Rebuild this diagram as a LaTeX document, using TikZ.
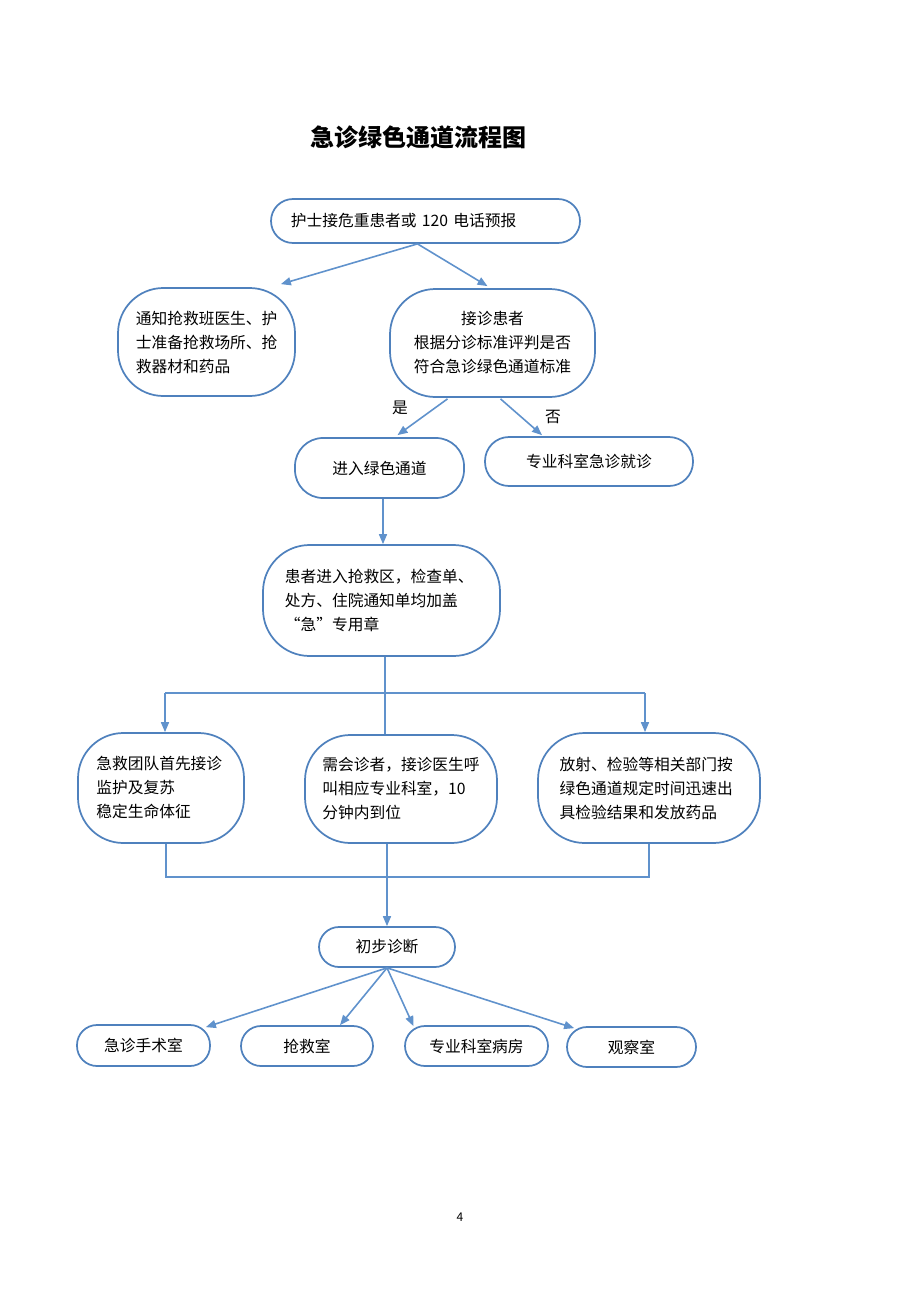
\documentclass[tikz,border=0pt]{standalone}
\usepackage{fontspec}
\setmainfont{Noto Sans CJK SC}
\newfontfamily\cjktitle{Noto Sans CJK SC}
\usepackage{tikz}
\usetikzlibrary{arrows.meta,calc}
\usepackage{xcolor}
\definecolor{boxblue}{RGB}{79,129,189}
\definecolor{linkblue}{RGB}{96,146,204}

\begin{document}
\begin{tikzpicture}[x=0.75pt,y=0.75pt,yscale=-1,xscale=1,
  box/.style={draw=boxblue,line width=1.3pt,fill=white,inner sep=0pt,font=\fontsize{11.8pt}{18pt}\selectfont},
  link/.style={draw=linkblue,line width=1.2pt},
  arrow/.style={link,-{Triangle[length=7.5pt,width=6pt]}}]
%set diagram to the page size
\useasboundingbox (0,0) rectangle (920,1302);

% Title
\node (title) at (418,137) {\cjktitle\fontsize{18pt}{22pt}\selectfont\bfseries 急诊绿色通道流程图};

%Shape: top call
\node[box,minimum width=231.75pt,minimum height=33pt,rounded corners=16.5pt,text width=202pt,align=left] (call) at (425.5,221) {护士接危重患者或 120 电话预报};
%Shape: notify staff
\node[box,minimum width=132.75pt,minimum height=81pt,rounded corners=34pt,text width=106pt,align=left] (notify) at (206.5,342) {通知抢救班医生、护\\士准备抢救场所、抢\\救器材和药品};
%Shape: triage
\node[box,minimum width=153.75pt,minimum height=81pt,rounded corners=34pt,align=center] (triage) at (492.5,343) {接诊患者\\根据分诊标准评判是否\\符合急诊绿色通道标准};
%Shape: green channel
\node[box,minimum width=126.75pt,minimum height=45pt,rounded corners=21pt] (green) at (379.5,468) {进入绿色通道};
%Shape: specialist
\node[box,minimum width=156pt,minimum height=36.75pt,rounded corners=18pt] (special) at (589,461.5) {专业科室急诊就诊};
%Shape: rescue zone
\node[box,minimum width=177.75pt,minimum height=83.25pt,rounded corners=35pt,text width=145pt,align=left] (zone) at (381.5,600.5) {患者进入抢救区，检查单、\\处方、住院通知单均加盖\\“急”专用章};
%Shape: three parallel steps
\node[box,minimum width=124.5pt,minimum height=82.5pt,rounded corners=34pt,text width=97pt,align=left] (team1) at (161,788) {急救团队首先接诊\\监护及复苏\\稳定生命体征};
\node[box,minimum width=144pt,minimum height=81pt,rounded corners=34pt,text width=118pt,align=left] (team2) at (401,789) {需会诊者，接诊医生呼\\叫相应专业科室，10\\分钟内到位};
\node[box,minimum width=166.5pt,minimum height=82.5pt,rounded corners=35pt,text width=134pt,align=left] (team3) at (649,788) {放射、检验等相关部门按\\绿色通道规定时间迅速出\\具检验结果和发放药品};
%Shape: diagnosis
\node[box,minimum width=102pt,minimum height=30pt,rounded corners=15pt] (diag) at (387,947) {初步诊断};
%Shape: destinations
\node[box,minimum width=99.75pt,minimum height=30.75pt,rounded corners=15pt] (op) at (143.5,1045.5) {急诊手术室};
\node[box,minimum width=99pt,minimum height=30pt,rounded corners=15pt] (resc) at (307,1046) {抢救室};
\node[box,minimum width=107.25pt,minimum height=30pt,rounded corners=15pt] (ward) at (476.5,1046) {专业科室病房};
\node[box,minimum width=96.75pt,minimum height=30pt,rounded corners=15pt] (obs) at (631.5,1047) {观察室};

%Straight Lines: from call
\draw[arrow] ([xshift=-6pt]call.south) -- ($(notify.north east)+(-15,-3)$);
\draw[arrow] ([xshift=-6pt]call.south) -- ($(triage.north)+(-5,-2)$);
%Straight Lines: yes / no
\draw[arrow] ($(triage.south)+(-45,1)$) -- ($(green.north)+(18,-2)$);
\draw[arrow] ($(triage.south)+(8,1)$) -- ($(special.north)+(-47,-1)$);
% Text Node
\node[font=\fontsize{11.8pt}{14pt}\selectfont] (yes) at (400,408) {是};
\node[font=\fontsize{11.8pt}{14pt}\selectfont] (no) at (553,417) {否};
%Straight Lines: into rescue zone
\draw[arrow] ($(zone.north |- green.south)+(1.5,0)$) -- ($(zone.north)+(1.5,0)$);
%Straight Lines: split
\coordinate (top) at ($(zone.south)+(3.5,0)$);
\coordinate (split) at ($(top)+(0,36)$);
\draw[link] (top) -- (top |- team2.north);
\draw[link] ($(team1.north |- split)+(4,0)$) -- ($(team3.north |- split)+(-4,0)$);
\draw[arrow] ($(team1.north |- split)+(4,0)$) -- ($(team1.north)+(4,0)$);
\draw[arrow] ($(team3.north |- split)+(-4,0)$) -- ($(team3.north)+(-4,0)$);
%Straight Lines: merge
\coordinate (merge) at ($(diag.north)+(0,-49)$);
\draw[link] ($(team1.south)+(5,0)$) |- (merge);
\draw[link] (team3.south) |- (merge);
\draw[link] (diag.north |- team2.south) -- (merge);
\draw[arrow] (merge) -- (diag.north);
%Straight Lines: fan out
\draw[arrow] (diag.south) -- ($(op.north east)+(-5,3)$);
\draw[arrow] (diag.south) -- ($(resc.north)+(33,0)$);
\draw[arrow] (diag.south) -- ($(ward.north)+(-63,1)$);
\draw[arrow] (diag.south) -- ($(obs.north west)+(8,2)$);

% Text Node: page number
\node[font=\fontsize{9pt}{10pt}\selectfont] (page) at (460,1217) {4};
\end{tikzpicture}
\end{document}
